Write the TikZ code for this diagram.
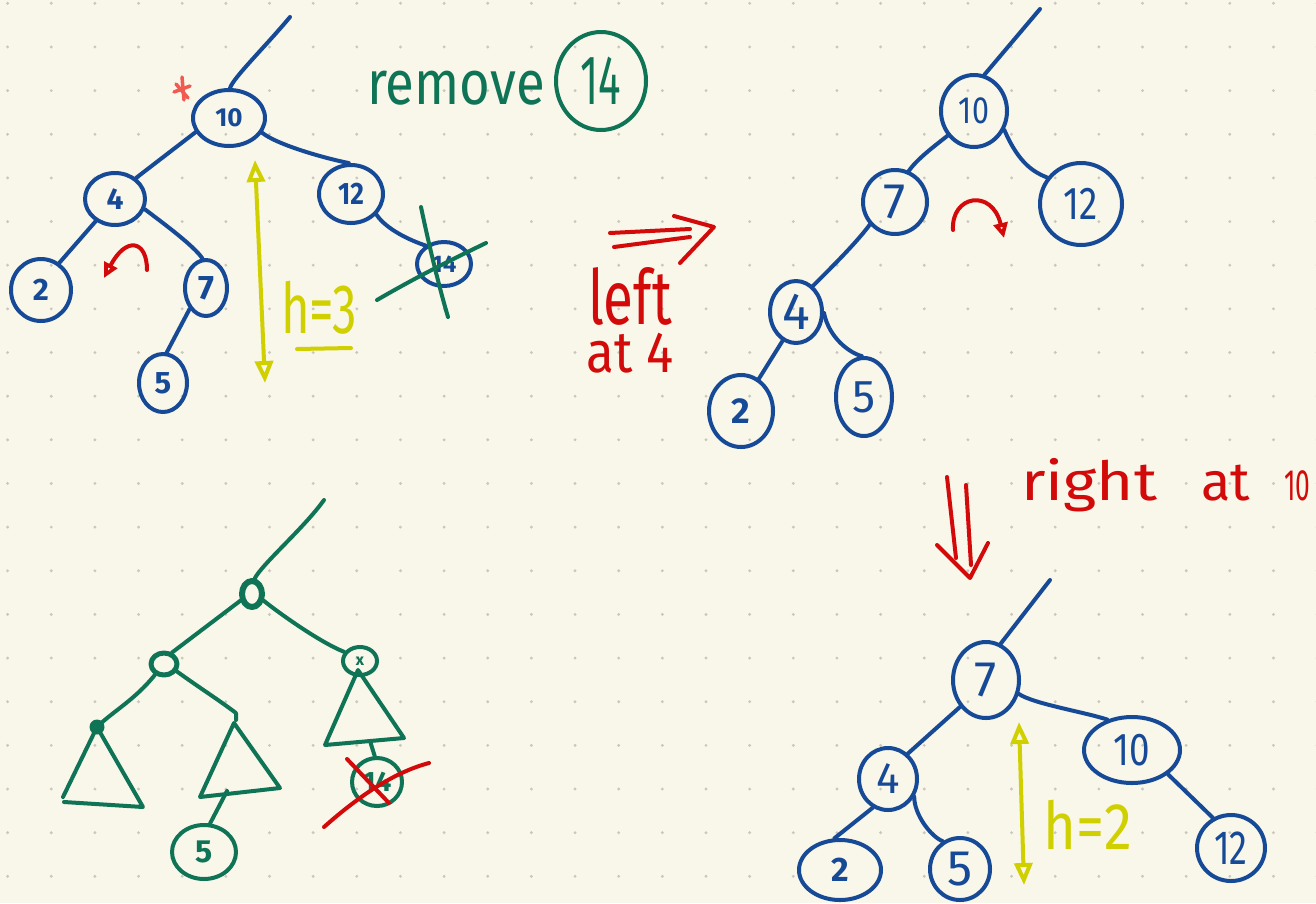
\documentclass[tikz,border=0pt]{standalone}
\usepackage{fontspec}
\setmainfont{Fira Sans}
\usetikzlibrary{shapes.geometric,arrows.meta}
\definecolor{paper}{HTML}{F9F6EA}
\definecolor{dotc}{HTML}{C9C7BE}
\definecolor{inkblue}{HTML}{164A96}
\definecolor{inkgreen}{HTML}{0F7355}
\definecolor{inkred}{HTML}{D20A0A}
\definecolor{inkyellow}{HTML}{D0D000}
\definecolor{inksalmon}{HTML}{F05A50}
\newcommand\fsz[1]{\fontsize{#1}{#1}\selectfont}
\newcommand\nx[2]{\scalebox{#1}[1]{#2}}
\tikzset{
  YHead/.tip={Triangle[open, length=22pt, width=18pt]},
  RHead/.tip={Triangle[open, length=15pt, width=14pt]},
}

\begin{document}
\begin{tikzpicture}[x=1pt,y=-1pt,
  pen/.style={line width=4pt, line cap=round, line join=round},
  bn/.style={pen, draw=inkblue, text=inkblue, ellipse, inner sep=0pt},
  gn/.style={pen, draw=inkgreen, text=inkgreen, ellipse, inner sep=0pt},
  be/.style={pen, draw=inkblue},
  ge/.style={pen, draw=inkgreen},
  re/.style={pen, draw=inkred},
  ye/.style={pen, draw=inkyellow},
  sz/.style 2 args={minimum width=#1pt, minimum height=#2pt},
]
% paper and dot grid
\fill[paper] (0,0) rectangle (1316,903);
\useasboundingbox (0,0) rectangle (1316,903);
\clip (0,0) rectangle (1316,903);
\foreach \i in {0,...,30}
  \foreach \j in {0,...,20}
    \fill[dotc] (7.6+43.65*\i, 3.3+43.65*\j) circle (1.6pt);

% ---------- tree before removal ----------
\node[bn, sz={72}{56}, font=\fsz{26}\bfseries] (a10) at (229,118) {10};
\node[bn, sz={60}{52}, font=\fsz{30}\bfseries] (a4)  at (115,199) {4};
\node[bn, sz={64}{58}, font=\fsz{31}\bfseries] (a12) at (351,194) {\nx{0.85}{12}};
\node[bn, sz={60}{62}, font=\fsz{31}\bfseries] (a2)  at (41,290) {2};
\node[bn, sz={42}{56}, font=\fsz{34}\bfseries] (a7)  at (206,288) {7};
\node[bn, sz={48}{58}, font=\fsz{31}\bfseries] (a5)  at (163,383) {5};
\node[bn, sz={54}{44}, font=\fsz{24}\bfseries] (a14) at (444,264) {14};
\coordinate (a0) at (290,17);

\draw[be] (a10.88) .. controls +(3,-10) and +(-25,30) .. (a0);
\draw[be] (a10.203) -- (a4.45);
\draw[be] (a10.-24) .. controls +(15,12) and +(-25,-5) .. (a12.94);
\draw[be] (a4.-131) -- (a2.56);
\draw[be] (a4.-19) .. controls +(20,15) and +(-8,-12) .. (a7.97);
\draw[be] (a7.-128) -- (a5.83);
\draw[be] (a12.-39) .. controls +(10,15) and +(-15,-5) .. (a14.135);

% 14 struck out
\draw[ge] (421,207) .. controls (430,250) and (440,290) .. (448,317);
\draw[ge] (377,300) .. controls (420,275) and (455,258) .. (486,243);

% marker at the unbalanced node
\draw[pen, draw=inksalmon, line width=3.5pt] (182,77) -- (184,100);
\draw[pen, draw=inksalmon, line width=3.5pt] (174,92) -- (190,86);
\draw[pen, draw=inksalmon, line width=3.5pt] (176,84) -- (188,98);

% left rotation hint
\draw[re, -{RHead}] (147,270) .. controls (147,240) and (126,236) .. (104,278);

% height h=3
\draw[ye, {YHead}-{YHead}] (255,160) -- (265,383);
\node[text=inkyellow, inner sep=0pt, font=\fsz{70}] (h3) at (319,308) {\nx{0.7}{h=3}};
\draw[ye] (297,349) -- (351,348);

% title
\node[text=inkgreen, inner sep=0pt, font=\fsz{62}] (rm) at (456,88) {\nx{0.85}{remove}};
\node[gn, sz={90}{98}, font=\fsz{70}] (c14) at (601,81) {\nx{0.6}{14}};

% ---------- first rotation ----------
\draw[re] (610,233) -- (690,229);
\draw[re] (614,247) -- (690,237);
\draw[re] (674,216) -- (714,227) -- (680,263);
\node[text=inkred, inner sep=0pt, font=\fsz{76}, align=center, anchor=north] (lft) at (630,267)
  {\nx{0.72}{left}\\[-28pt]{\fsz{58}\nx{0.88}{at 4}}};

\node[bn, sz={66}{72}, font=\fsz{38}] (b10) at (974,111) {\nx{0.8}{10}};
\node[bn, sz={64}{64}, font=\fsz{50}] (b7)  at (895,202) {7};
\node[bn, sz={82}{82}, font=\fsz{46}] (b12) at (1081,204) {\nx{0.8}{12}};
\node[bn, sz={52}{62}, font=\fsz{52}] (b4)  at (796,312) {4};
\node[bn, sz={64}{72}, font=\fsz{36}\bfseries] (b2)  at (741,411) {2};
\node[bn, sz={56}{78}, font=\fsz{46}] (b5)  at (864,397) {5};
\coordinate (b0) at (1040,9);

\draw[be] (b10.74) -- (b0);
\draw[be] (b10.-137) .. controls +(-10,8) and +(8,-12) .. (b7.66);
\draw[be] (b10.-32) .. controls +(15,35) and +(-12,-5) .. (b12.142);
\draw[be] (b7.-138) .. controls +(-15,20) and +(15,-15) .. (b4.57);
\draw[be] (b4.-115) -- (b2.61);
\draw[be] (b4.-2) .. controls +(5,25) and +(-12,-3) .. (b5.93);

% right rotation hint
\draw[re, -{RHead}] (953,230) .. controls (951,195) and (992,188) .. (1004,238);

% ---------- second rotation ----------
\draw[re] (947,477) -- (956,558);
\draw[re] (966,485) -- (971,565);
\draw[re] (937,545) -- (970,578) -- (988,543);
\node[text=inkred, anchor=base west, inner sep=0pt, font=\fsz{54}] (rgt) at (1021,500)
  {\nx{1.18}{right}\hspace{44pt}at\hspace{34pt}{\fsz{44}\nx{0.6}{10}}};

\node[bn, sz={66}{76}, font=\fsz{50}] (c7)  at (986,680) {7};
\node[bn, sz={58}{62}, font=\fsz{44}] (c4)  at (888,779) {4};
\node[bn, sz={96}{66}, font=\fsz{46}] (c10) at (1132,750) {\nx{0.8}{10}};
\node[bn, sz={68}{66}, font=\fsz{48}] (c12) at (1231,848) {\nx{0.75}{12}};
\node[bn, sz={82}{60}, font=\fsz{34}\bfseries] (c2)  at (840,870) {2};
\node[bn, sz={60}{62}, font=\fsz{50}] (c5)  at (960,869) {5};
\coordinate (c0) at (1050,580);

\draw[be] (c7.68) -- (c0);
\draw[be] (c7.-134) -- (c4.52);
\draw[be] (c7.-23) .. controls +(15,10) and +(-25,-8) .. (c10.129);
\draw[be] (c10.-34) -- (c12.121);
\draw[be] (c4.-118) -- (c2.100);
\draw[be] (c4.-34) .. controls +(0,18) and +(-12,-5) .. (c5.122);

% height h=2
\draw[ye, {YHead}-{YHead}] (1019,722) -- (1024,885);
\node[text=inkyellow, inner sep=0pt, font=\fsz{66}] (h2) at (1088,825) {\nx{0.85}{h=2}};

% ---------- general shape with subtrees ----------
\node[gn, line width=6pt, sz={20}{26}] (g0) at (252,594) {};
\node[gn, line width=5pt, sz={26}{22}] (gL) at (164,664) {};
\node[gn, sz={34}{28}, font=\fsz{16}\bfseries] (gR) at (360,661) {x};
\node[gn, sz={64}{54}, font=\fsz{32}\bfseries] (g5) at (204,852) {5};
\node[gn, sz={50}{48}, font=\fsz{28}\bfseries] (g14) at (377,782) {14};
\coordinate (gtop) at (324,500);
\coordinate (tLL) at (97,727);
\coordinate (tLRt) at (236,713);
\coordinate (tLR) at (234,723);
\coordinate (lrb) at (227,791);
\coordinate (tR) at (358,670);
\coordinate (rb) at (370,741);

\draw[ge] (g0.80) .. controls +(8,-15) and +(-20,28) .. (gtop);
\draw[ge] (g0.-150) -- (gL.55);
\draw[ge] (g0.-30) .. controls +(15,12) and +(-25,-10) .. (gR.150);
\draw[ge] (gL.-130) .. controls +(-20,25) and +(15,-15) .. (tLL);
\fill[inkgreen] (tLL) circle (7.5pt);
\draw[ge] (63,797) -- (tLL) -- (143,807) -- (64,802);
\draw[ge] (gL.-30) .. controls +(25,18) and +(-20,-15) .. (tLRt) -- ++(0,7);
\draw[ge] (tLR) -- (280,788) -- (200,797) -- cycle;
\draw[ge] (lrb) -- (g5.78);
\draw[ge] (tR) -- (325,745) -- (404,738) -- cycle;
\draw[ge] (rb) -- (g14.95);

% removed leaf
\draw[re] (347,759) -- (389,803);
\draw[re] (324,827) .. controls (360,795) and (395,772) .. (429,763);
\end{tikzpicture}
\end{document}
